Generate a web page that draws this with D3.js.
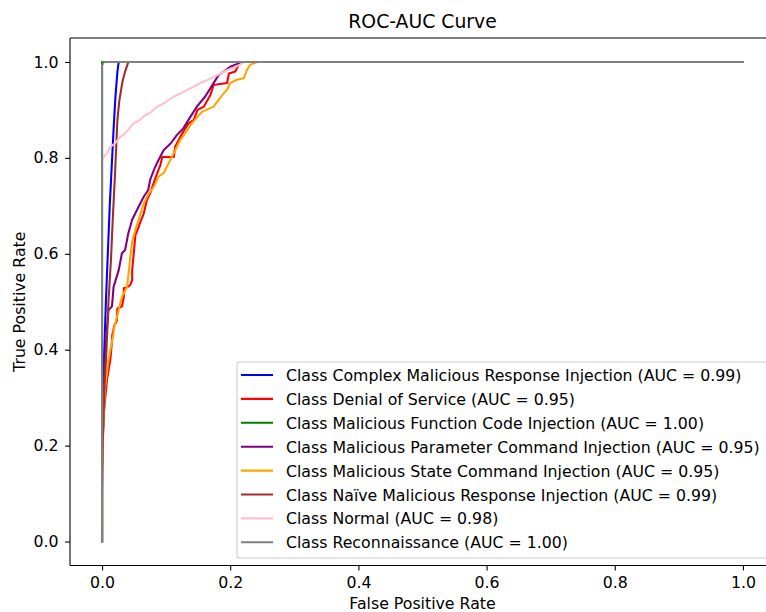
<!DOCTYPE html>
<html>
<head>
<meta charset="utf-8">
<script src="https://cdn.jsdelivr.net/npm/d3@7"></script>
<style>
  body { margin: 0; background: #ffffff; }
  text { font-family: "DejaVu Sans", sans-serif; fill: #000; }
</style>
</head>
<body>
<svg id="chart" width="766" height="612"></svg>
<script>
// ---- data ----
const classNames = [
  "Complex Malicious Response Injection",
  "Denial of Service",
  "Malicious Function Code Injection",
  "Malicious Parameter Command Injection",
  "Malicious State Command Injection",
  "Naïve Malicious Response Injection",
  "Normal",
  "Reconnaissance"
];
const aucValues = [0.99, 0.95, 1.00, 0.95, 0.95, 0.99, 0.98, 1.00];
const xTickValues = [0.0, 0.2, 0.4, 0.6, 0.8, 1.0];
const yTickValues = [0.0, 0.2, 0.4, 0.6, 0.8, 1.0];

const fprComplex = [0, 0, 0.002, 0.004, 0.006, 0.009, 0.012, 0.015, 0.018, 0.021, 0.024, 0.026, 1];
const tprComplex = [0, 0.25, 0.35, 0.42, 0.50, 0.60, 0.70, 0.78, 0.86, 0.93, 0.98, 1.0, 1.0];

const fprDos = [0, 0, 0.001, 0.003, 0.005, 0.008, 0.013, 0.015, 0.016, 0.019, 0.023, 0.024, 0.031, 0.034, 0.034,
  0.039, 0.044, 0.047, 0.047, 0.050, 0.052, 0.057, 0.058, 0.065, 0.070, 0.075, 0.083, 0.088, 0.091, 0.094, 0.112,
  0.114, 0.125, 0.135, 0.143, 0.149, 0.159, 0.169, 0.174, 0.195, 0.198, 0.208, 0.213, 0.218, 1];
const tprDos = [0, 0.14, 0.22, 0.27, 0.30, 0.34, 0.38, 0.41, 0.43, 0.45, 0.46, 0.486, 0.49, 0.51, 0.528,
  0.53, 0.535, 0.545, 0.566, 0.608, 0.639, 0.655, 0.66, 0.684, 0.712, 0.726, 0.757, 0.775, 0.785, 0.802, 0.802,
  0.823, 0.851, 0.872, 0.879, 0.90, 0.907, 0.931, 0.952, 0.956, 0.976, 0.98, 0.994, 1.0, 1.0];

const fprFunction = [0, 0, 1];
const tprFunction = [0, 1.0, 1.0];

const fprParameter = [0, 0, 0.001, 0.003, 0.005, 0.006, 0.010, 0.0155, 0.018, 0.026, 0.031, 0.036, 0.041, 0.047,
  0.057, 0.065, 0.072, 0.075, 0.081, 0.086, 0.096, 0.107, 0.117, 0.127, 0.138, 0.148, 0.161, 0.174, 0.182, 0.190,
  0.200, 0.213, 0.218, 1];
const tprParameter = [0, 0.10, 0.20, 0.30, 0.38, 0.413, 0.483, 0.49, 0.531, 0.566, 0.601, 0.608, 0.643, 0.671,
  0.698, 0.719, 0.733, 0.754, 0.775, 0.79, 0.816, 0.83, 0.848, 0.862, 0.886, 0.907, 0.928, 0.956, 0.973, 0.98,
  0.99, 0.997, 1.0, 1.0];

const fprState = [0, 0, 0.001, 0.003, 0.005, 0.010, 0.015, 0.018, 0.018, 0.026, 0.031, 0.039, 0.042, 0.044, 0.047,
  0.052, 0.057, 0.065, 0.073, 0.081, 0.088, 0.096, 0.104, 0.114, 0.122, 0.133, 0.140, 0.156, 0.174, 0.182, 0.190,
  0.195, 0.200, 0.210, 0.221, 0.226, 0.231, 0.242, 1];
const tprState = [0, 0.12, 0.20, 0.27, 0.323, 0.379, 0.413, 0.434, 0.441, 0.483, 0.51, 0.531, 0.566, 0.594, 0.625,
  0.65, 0.671, 0.705, 0.726, 0.74, 0.761, 0.768, 0.789, 0.816, 0.837, 0.858, 0.872, 0.896, 0.907, 0.921, 0.935,
  0.942, 0.956, 0.963, 0.966, 0.983, 0.994, 1.0, 1.0];

const fprNaive = [0, 0, 0.002, 0.004, 0.007, 0.010, 0.014, 0.017, 0.020, 0.022, 0.024, 0.027, 0.032, 0.036, 0.041, 1];
const tprNaive = [0, 0.15, 0.25, 0.33, 0.40, 0.50, 0.59, 0.68, 0.76, 0.82, 0.88, 0.92, 0.96, 0.98, 1.0, 1.0];

const fprNormal = [0, 0, 0.0025, 0.008, 0.013, 0.020, 0.0285, 0.035, 0.042, 0.049, 0.058, 0.0675, 0.076, 0.086,
  0.098, 0.112, 0.122, 0.133, 0.143, 0.153, 0.164, 0.174, 0.185, 0.195, 0.205, 0.216, 0.222, 1];
const tprNormal = [0, 0.795, 0.802, 0.81, 0.823, 0.83, 0.844, 0.85, 0.86, 0.872, 0.878, 0.889, 0.895, 0.907,
  0.915, 0.928, 0.934, 0.942, 0.948, 0.956, 0.962, 0.969, 0.976, 0.983, 0.988, 0.995, 1.0, 1.0];

const fprRecon = [0, 0, 0.003, 1];
const tprRecon = [0, 0.993, 1.0, 1.0];

// ---- styling ----
const lineColors = ["#0000ff", "#ff0000", "#008000", "#800080", "#ffa500", "#a52a2a", "#ffc0cb", "#808080"];
const fprAll = [fprComplex, fprDos, fprFunction, fprParameter, fprState, fprNaive, fprNormal, fprRecon];
const tprAll = [tprComplex, tprDos, tprFunction, tprParameter, tprState, tprNaive, tprNormal, tprRecon];

const series = classNames.map((name, i) => ({
  label: `Class ${name} (AUC = ${aucValues[i].toFixed(2)})`,
  color: lineColors[i],
  points: fprAll[i].map((f, j) => [f, tprAll[i][j]])
}));

const svg = d3.select("#chart");
const lineW = 2.08;
const fontPx = 15.75;

// axes box (5% margins around [0, 1])
const x = d3.scaleLinear().domain([-0.05, 1.05]).range([70, 775]);
const y = d3.scaleLinear().domain([-0.05, 1.05]).range([565.5, 38]);

// curves
const line = d3.line().x(d => x(d[0])).y(d => y(d[1]));
svg.append("g").selectAll("path")
  .data(series)
  .join("path")
  .attr("d", d => line(d.points))
  .attr("fill", "none")
  .attr("stroke", d => d.color)
  .attr("stroke-width", lineW)
  .attr("stroke-linejoin", "round")
  .attr("stroke-linecap", "square");

// spines
const [x0, x1] = x.range();
const [yb, yt] = y.range();
const spines = svg.append("g").attr("stroke", "#000").attr("stroke-width", 1.1).attr("fill", "none");
spines.append("line").attr("x1", x0).attr("x2", x0).attr("y1", yt).attr("y2", yb);
spines.append("line").attr("x1", x0).attr("x2", x1).attr("y1", yt).attr("y2", yt);
spines.append("line").attr("x1", x0).attr("x2", x1).attr("y1", yb).attr("y2", yb);
spines.append("line").attr("x1", x1).attr("x2", x1).attr("y1", yt).attr("y2", yb);

// axes
const fmt = d3.format(".1f");
const xAxis = svg.append("g")
  .attr("transform", `translate(0,${yb})`)
  .call(d3.axisBottom(x).tickValues(xTickValues).tickFormat(fmt).tickSize(4.9).tickPadding(5));
const yAxis = svg.append("g")
  .attr("transform", `translate(${x0},0)`)
  .call(d3.axisLeft(y).tickValues(yTickValues).tickFormat(fmt).tickSize(4.9).tickPadding(6.6));
[xAxis, yAxis].forEach(g => {
  g.select(".domain").remove();
  g.selectAll(".tick line").attr("stroke", "#000").attr("stroke-width", 1.1);
  g.selectAll(".tick text")
    .attr("fill", "#000")
    .style("font-family", "DejaVu Sans")
    .style("font-size", fontPx + "px");
});
xAxis.selectAll(".tick text").attr("dy", null).attr("y", 22.5);

// title and axis labels
const cx = (x0 + x1) / 2;
svg.append("text").attr("x", cx).attr("y", 28).attr("text-anchor", "middle")
  .style("font-size", "18.8px").text("ROC-AUC Curve");
svg.append("text").attr("x", cx).attr("y", 608.5).attr("text-anchor", "middle")
  .style("font-size", fontPx + "px").text("False Positive Rate");
svg.append("text")
  .attr("transform", `translate(24.5,${(yt + yb) / 2}) rotate(-90)`)
  .attr("text-anchor", "middle")
  .style("font-size", fontPx + "px").text("True Positive Rate");

// legend (lower right)
const legX = 237, legY = 362, legW = 531, legH = 196;
const legend = svg.append("g");
legend.append("rect")
  .attr("x", legX).attr("y", legY).attr("width", legW).attr("height", legH)
  .attr("rx", 2.8)
  .attr("fill", "#fff").attr("fill-opacity", 0.8)
  .attr("stroke", "#cccccc").attr("stroke-width", 1.1);
const rowH = 23.9;
const rows = legend.selectAll("g.row")
  .data(series)
  .join("g")
  .attr("class", "row")
  .attr("transform", (d, i) => `translate(0,${legY + 13 + i * rowH})`);
rows.append("line")
  .attr("x1", 242).attr("x2", 272)
  .attr("stroke", d => d.color)
  .attr("stroke-width", lineW)
  .attr("stroke-linecap", "square");
rows.append("text")
  .attr("x", 286).attr("dy", "0.38em")
  .style("font-size", fontPx + "px")
  .text(d => d.label);
</script>
</body>
</html>
